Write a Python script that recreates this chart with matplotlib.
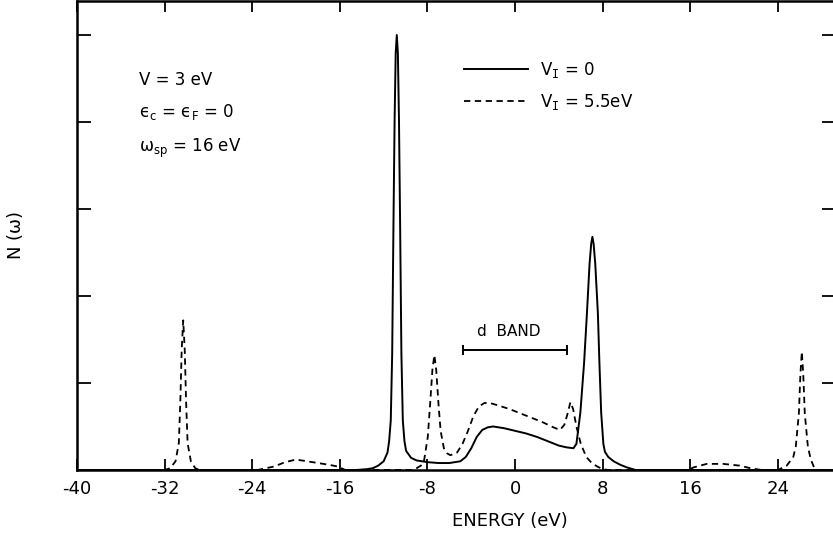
import matplotlib
matplotlib.use("Agg")
import matplotlib.pyplot as plt
from matplotlib.lines import Line2D

plt.rcParams["font.family"] = ["DejaVu Sans"]
plt.rcParams["axes.unicode_minus"] = False
plt.rcParams["mathtext.fontset"] = "dejavusans"
plt.rcParams["mathtext.default"] = "regular"

# Density of states N(omega), V_I = 0 (solid)
energy_vi0 = [-40, -14.5, -13.5, -13.0, -12.5, -12.0, -11.65, -11.5, -11.35, -11.22,
              -11.1, -11.0, -10.9, -10.8, -10.7, -10.6, -10.5, -10.38, -10.25, -10.1,
              -9.95, -9.5, -9.0, -8.0, -7.0, -6.0, -5.0, -4.5, -4.0, -3.5, -3.0, -2.5,
              -2.0, -1.0, 0.0, 1.0, 2.0, 3.0, 4.0, 4.7, 5.33, 5.6, 5.96, 6.3, 6.56,
              6.8, 6.95, 7.06, 7.17, 7.32, 7.56, 7.7, 7.86, 8.06, 8.2, 8.5, 9.0, 9.6,
              10.2, 11.0, 30]
dos_vi0 = [0, 0, 0.01, 0.02, 0.05, 0.1, 0.2, 0.33, 0.57, 1.34,
           2.87, 4.02, 4.79, 5.0, 4.79, 4.02, 2.87, 1.34, 0.57, 0.33,
           0.22, 0.14, 0.11, 0.09, 0.08, 0.08, 0.1, 0.15, 0.25, 0.38, 0.46, 0.49,
           0.5, 0.48, 0.45, 0.42, 0.38, 0.33, 0.28, 0.26, 0.25, 0.3, 0.66, 1.23, 1.8,
           2.37, 2.6, 2.68, 2.6, 2.37, 1.8, 1.23, 0.66, 0.3, 0.21, 0.15, 0.1, 0.06,
           0.03, 0, 0]

# Density of states N(omega), V_I = 5.5 eV (dashed)
energy_vi55 = [-40, -32, -31.5, -31.0, -30.7, -30.56, -30.44, -30.3, -30.16, -30.04,
               -29.9, -29.6, -29.2, -28.8, -23.5, -22, -21, -20, -19, -18, -17,
               -16.2, -15.5, -9.5, -9.0, -8.6, -8.32, -7.97, -7.75, -7.55, -7.37,
               -7.2, -7.0, -6.8, -6.5, -6.2, -5.9, -5.3, -4.8, -4.3, -3.8, -3.3,
               -2.8, -2.3, -1.5, -0.5, 0.5, 1.5, 2.5, 3.5, 4.1, 4.5, 4.8, 5.05, 5.3,
               5.6, 6.0, 6.5, 7.0, 7.5, 8.0, 8.5, 15.8, 16.3, 17.5, 19.0, 20.5, 21.5,
               22.5, 24.0, 24.8, 25.4, 25.63, 25.91, 26.05, 26.18, 26.31, 26.45,
               26.73, 27.0, 27.3, 27.7, 30]
dos_vi55 = [0, 0, 0.02, 0.1, 0.31, 0.8, 1.38, 1.72, 1.38, 0.8,
            0.31, 0.1, 0.02, 0, 0, 0.04, 0.09, 0.12, 0.1, 0.08, 0.06,
            0.04, 0, 0, 0.02, 0.05, 0.1, 0.38, 0.77, 1.15, 1.32,
            1.15, 0.77, 0.45, 0.25, 0.19, 0.17, 0.2, 0.3, 0.45, 0.62, 0.73,
            0.77, 0.77, 0.74, 0.7, 0.65, 0.6, 0.55, 0.49, 0.46, 0.52, 0.65, 0.78, 0.7,
            0.5, 0.3, 0.15, 0.08, 0.04, 0.01, 0, 0, 0.03, 0.07, 0.07, 0.05, 0.02,
            0, 0, 0.05, 0.15, 0.27, 0.65, 1.1, 1.36, 1.1, 0.65,
            0.27, 0.12, 0.03, 0, 0]

x_ticks = [-40, -32, -24, -16, -8, 0, 8, 16, 24]
x_tick_labels = ["-40", "-32", "-24", "-16", "-8", "0", "8", "16", "24"]
y_ticks = [0, 1, 2, 3, 4, 5]

# d-band extent marker
d_band_lo, d_band_hi, d_band_y = -4.8, 4.7, 1.38

fig = plt.figure(figsize=(8.33, 5.37), dpi=100)
ax = fig.add_axes([0.0924, 0.1248, 0.9112, 0.8733])

dash = (0, (3.5, 2.5))
ax.plot(energy_vi0, dos_vi0, color="black", lw=1.4, solid_joinstyle="round")
ax.plot(energy_vi55, dos_vi55, color="black", lw=1.3, linestyle=dash)

ax.set_xlim(-40, 29.3)
ax.set_ylim(0, 5.39)
ax.set_xticks(x_ticks)
ax.set_xticklabels(x_tick_labels)
ax.set_yticks(y_ticks)
ax.set_yticklabels([])
ax.tick_params(axis="x", direction="in", length=8, width=1.3, top=True,
               labelsize=13, pad=7)
ax.tick_params(axis="y", direction="in", length=10, width=1.3, right=True)
for s in ax.spines.values():
    s.set_linewidth(1.8)

ax.set_xlabel("ENERGY (eV)", fontsize=13)
ax.xaxis.set_label_coords(0.57, -0.09)
ax.set_ylabel(r"N ($\omega$)", fontsize=13)
ax.yaxis.set_label_coords(-0.068, 0.5)

# parameter block
ax.text(-34.3, 4.48, "V = 3 eV", fontsize=12, va="center")
ax.text(-34.3, 4.11, "\u03f5$_c$ = \u03f5$_F$ = 0", fontsize=12, va="center")
ax.text(-34.3, 3.70, r"$\omega_{sp}$ = 16 eV", fontsize=12, va="center")

# d band bar
ax.hlines(d_band_y, d_band_lo, d_band_hi, color="black", lw=1.4)
ax.vlines([d_band_lo, d_band_hi], d_band_y - 0.06, d_band_y + 0.06, color="black", lw=1.4)
ax.text(-0.55, d_band_y + 0.21, "d  BAND", fontsize=11, ha="center", va="center")

handles = [Line2D([], [], color="black", lw=1.4),
           Line2D([], [], color="black", lw=1.3, linestyle=dash)]
labels = [r"V$_{\mathtt{I}}$ = 0", r"V$_{\mathtt{I}}$ = 5.5eV"]
ax.legend(handles, labels, loc="upper left", bbox_to_anchor=(0.5095, 0.875),
          frameon=False, fontsize=12, handlelength=3.85, handletextpad=0.75,
          labelspacing=0.75, borderpad=0, borderaxespad=0)

fig.savefig("out.png", dpi=100)
